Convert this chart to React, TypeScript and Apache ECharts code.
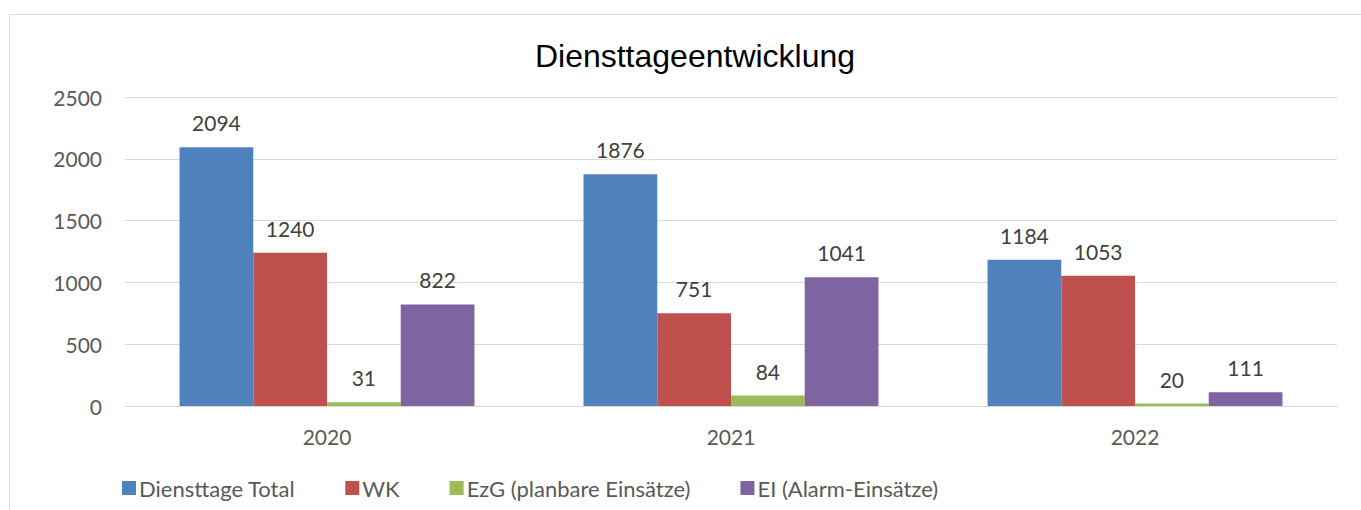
import React, { useEffect, useRef } from "react";
import * as echarts from "echarts";

const years = ["2020", "2021", "2022"];
const seriesNames = ["Diensttage Total", "WK", "EzG (planbare Einsätze)", "EI (Alarm-Einsätze)"];
const dienstTotal = [2094, 1876, 1184];
const wk = [1240, 751, 1053];
const ezg = [31, 84, 20];
const ei = [822, 1041, 111];
const colors = ["#4F81BD", "#C0504D", "#9BBB59", "#8064A2"];
const yTicks = { min: 0, max: 2500, interval: 500 };

export default function App() {
  const ref = useRef<HTMLDivElement>(null);
  useEffect(() => {
    const chart = echarts.init(ref.current!, null, { renderer: "svg" });
    const font = "Lato, 'Noto Sans', sans-serif";
    const data = [dienstTotal, wk, ezg, ei];
    chart.setOption({
      animation: false,
      backgroundColor: "#ffffff",
      textStyle: { fontFamily: font },
      title: {
        text: "Diensttageentwicklung",
        left: 690,
        top: 35,
        textAlign: "center",
        textStyle: { fontFamily: "'Liberation Sans', Arial, sans-serif", fontSize: 32, fontWeight: "normal", color: "#000000" },
      },
      graphic: [
        {
          type: "rect",
          shape: { x: 9.5, y: 14.5, width: 1400, height: 600 },
          style: { fill: "none", stroke: "#d9d9d9", lineWidth: 1 },
          silent: true,
        },
      ],
      legend: {
        left: 117,
        top: 472,
        itemWidth: 14,
        itemHeight: 14,
        itemGap: 50,
        icon: "rect",
        textStyle: { fontFamily: font, fontSize: 22, color: "#595959", padding: [0, 0, 0, -2] },
        data: seriesNames,
      },
      grid: { left: 125, right: 24, top: 97, bottom: 104, containLabel: false },
      xAxis: {
        type: "category",
        data: years,
        axisLine: { lineStyle: { color: "#d9d9d9", width: 1 } },
        axisTick: { show: false },
        axisLabel: { fontFamily: font, fontSize: 21, color: "#595959", margin: 20 },
      },
      yAxis: {
        type: "value",
        min: yTicks.min,
        max: yTicks.max,
        interval: yTicks.interval,
        axisLine: { show: false },
        axisTick: { show: false },
        splitLine: { lineStyle: { color: "#d9d9d9", width: 1 } },
        axisLabel: {
          fontFamily: font,
          fontSize: 21,
          color: "#595959",
          margin: 23,
          formatter: (v: number) => String(v),
        },
      },
      series: seriesNames.map((name, i) => ({
        name,
        type: "bar",
        data: data[i],
        barGap: "0%",
        barCategoryGap: "27%",
        itemStyle: { color: colors[i] },
        label: {
          show: true,
          position: "top",
          distance: 14,
          fontFamily: font,
          fontSize: 21,
          color: "#404040",
        },
      })),
    });
    return () => chart.dispose();
  }, []);
  return (
    <div
      ref={ref}
      style={{ position: "fixed", left: 0, top: 0, width: 1361, height: 510 }}
    />
  );
}
